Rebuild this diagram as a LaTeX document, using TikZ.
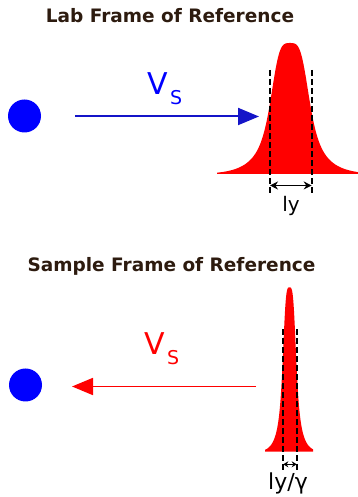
\documentclass[tikz,border=0pt]{standalone}
\usepackage{fontspec}
\setmainfont{DejaVu Sans}
\usepackage{xcolor}
\usepackage{tikz}
\usetikzlibrary{arrows.meta, positioning}

\definecolor{titlebrown}{RGB}{45,27,15}
\definecolor{beadblue}{RGB}{0,0,255}
\definecolor{arrowblue}{RGB}{20,20,200}
\definecolor{peakred}{RGB}{255,0,0}

\newcommand{\velsub}{\kern2.5pt\raisebox{-9.5pt}{\fontsize{19}{19}\selectfont S}}

\begin{document}
\begin{tikzpicture}[x=1pt, y=1pt,
  declare function={prof(\u)=0.85/(1+(abs(\u)/20)^4)+0.15*exp(-(\u/40)^2);},
  title/.style={text=titlebrown, font=\bfseries\fontsize{18.5}{20}\selectfont, anchor=base},
  bead/.style={circle, fill=beadblue, minimum size=33pt, inner sep=0pt},
  vel/.style={font=\fontsize{30}{30}\selectfont, anchor=base west, inner sep=0pt},
  width/.style={font=\fontsize{20}{20}\selectfont, anchor=base, inner sep=0pt},
  marker/.style={black, line width=1.7pt, dash pattern=on 6pt off 3pt},
  span/.style={black, line width=1pt, {Stealth[length=8pt,width=8pt]}-{Stealth[length=8pt,width=8pt]}}]
\useasboundingbox (0,0) rectangle (358,497);

% Lab frame
\node[title] (labtitle) at (170,474) {Lab Frame of Reference};
\node[bead] (labbead) at (24.5,381) {};
\node[vel, text=beadblue] (labvel) at (147,402) {V\velsub};

\fill[peakred] (217,323) -- plot[domain=-73:68, samples=200] ({290+\x}, {323+131*prof(\x)}) -- (358,323) -- cycle;

\coordinate (labfrom) at (75,380.5);
\coordinate (labto) at (259,380.5);
\coordinate (labltop) at (270,427);
\coordinate (lablbot) at (270,304);
\coordinate (labrtop) at (311.7,427);
\coordinate (labrbot) at (311.7,304);
\coordinate (labspanl) at (270,311.5);
\coordinate (labspanr) at (311.7,311.5);
\node[width] (labwidth) at (291,285) {ly};

% Sample frame
\node[title] (samtitle) at (171.5,225) {Sample Frame of Reference};
\node[bead] (sambead) at (25.5,112) {};
\node[vel, text=peakred] (samvel) at (144,142) {V\velsub};

\fill[peakred] (265,45.3) -- plot[domain=-24.5:23.5, samples=200] ({289.5+\x}, {45.3+164.4*prof(2.9*\x)}) -- (313,45.3) -- cycle;

\coordinate (samfrom) at (256,110.5);
\coordinate (samto) at (72,110.5);
\coordinate (samltop) at (283.3,167.7);
\coordinate (samlbot) at (283.3,24.3);
\coordinate (samrtop) at (296.7,167.7);
\coordinate (samrbot) at (296.7,24.3);
\coordinate (samspanl) at (283.3,32.7);
\coordinate (samspanr) at (296.7,32.7);
\node[width, font=\fontsize{22}{22}\selectfont] (samwidth) at (288,7) {ly/γ};

% Arrows
\draw[arrowblue, line width=2pt, -{Triangle[length=21pt,width=17pt]}] (labfrom) -- (labto);
\draw[peakred, line width=1.8pt, -{Triangle[length=21pt,width=17pt]}] (samfrom) -- (samto);

% Width markers
\draw[marker] (labltop) -- (lablbot);
\draw[marker] (labrtop) -- (labrbot);
\draw[span] (labspanl) -- (labspanr);
\draw[marker] (samltop) -- (samlbot);
\draw[marker] (samrtop) -- (samrbot);
\draw[black, line width=1.5pt, {Stealth[length=5pt,width=6pt]}-{Stealth[length=5pt,width=6pt]}] (samspanl) -- (samspanr);

\end{tikzpicture}
\end{document}
